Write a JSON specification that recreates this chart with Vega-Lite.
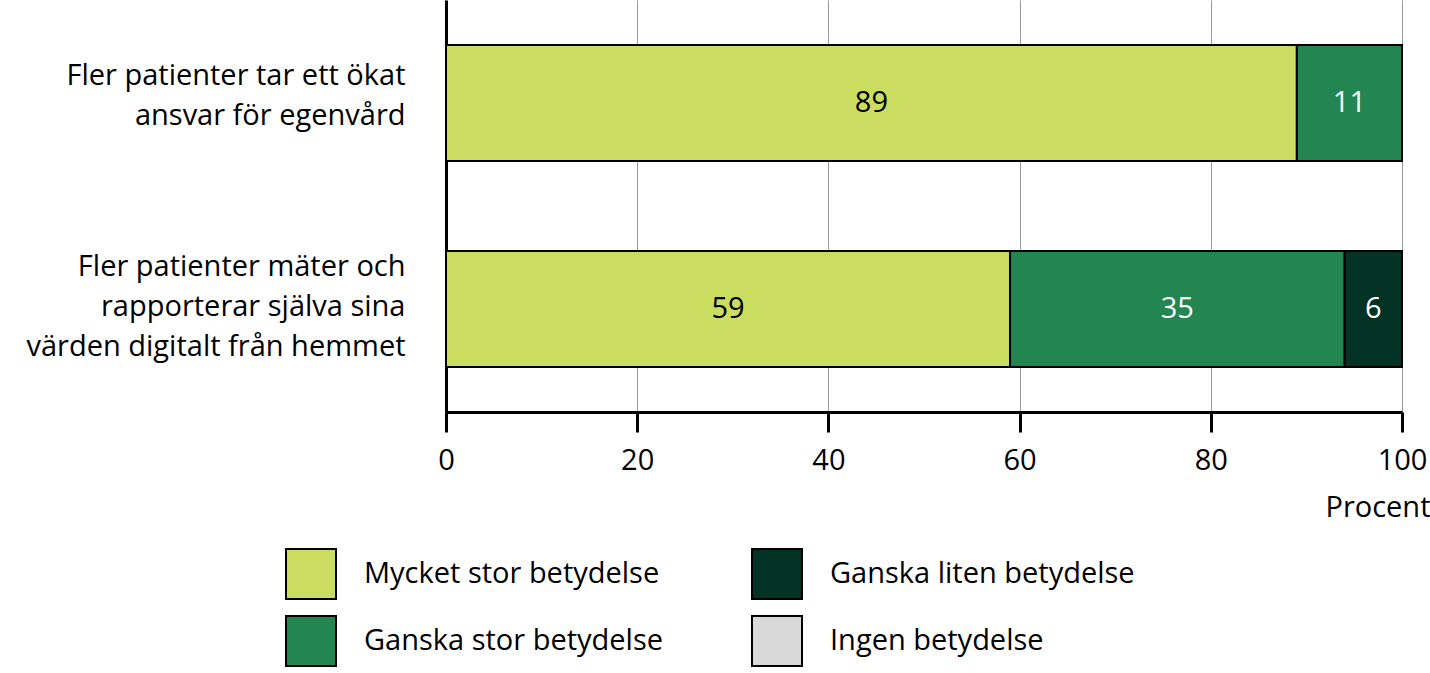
{
  "$schema": "https://vega.github.io/schema/vega-lite/v6.json",
  "width": 956,
  "height": 412,
  "autosize": {"type": "none"},
  "padding": {"left": 446, "top": 0, "right": 28, "bottom": 261},
  "background": "white",
  "config": {
    "font": "Open Sans",
    "view": {"stroke": null},
    "axis": {"labelFont": "Open Sans", "titleFont": "Open Sans"},
    "legend": {"labelFont": "Open Sans"},
    "text": {"font": "Open Sans"}
  },
  "data": {
    "values": [
      {"q": "Fler patienter tar ett ökat|ansvar för egenvård", "cat": "Mycket stor betydelse", "o": 1, "value": 89},
      {"q": "Fler patienter tar ett ökat|ansvar för egenvård", "cat": "Ganska stor betydelse", "o": 2, "value": 11},
      {"q": "Fler patienter mäter och|rapporterar själva sina|värden digitalt från hemmet", "cat": "Mycket stor betydelse", "o": 1, "value": 59},
      {"q": "Fler patienter mäter och|rapporterar själva sina|värden digitalt från hemmet", "cat": "Ganska stor betydelse", "o": 2, "value": 35},
      {"q": "Fler patienter mäter och|rapporterar själva sina|värden digitalt från hemmet", "cat": "Ganska liten betydelse", "o": 3, "value": 6}
    ]
  },
  "transform": [
    {"stack": "value", "groupby": ["q"], "sort": [{"field": "o"}], "as": ["v0", "v1"]},
    {"calculate": "(datum.v0 + datum.v1) / 2", "as": "mid"}
  ],
  "encoding": {
    "y": {
      "field": "q",
      "type": "nominal",
      "sort": ["Fler patienter tar ett ökat|ansvar för egenvård", "Fler patienter mäter och|rapporterar själva sina|värden digitalt från hemmet"],
      "scale": {"paddingInner": 0.437, "paddingOuter": 0.2185},
      "axis": {
        "title": null,
        "ticks": false,
        "domainColor": "black",
        "domainWidth": 3,
        "labelExpr": "split(datum.label, '|')",
        "labelFontSize": 29,
        "labelLineHeight": 40,
        "labelColor": "black",
        "labelPadding": 41,
        "labelLimit": 600,
        "labelOffset": {"condition": {"test": "indexof(datum.value, 'mäter') >= 0", "value": -42}, "value": -27}
      }
    }
  },
  "layer": [
    {
      "mark": {"type": "bar", "stroke": "black", "strokeWidth": 2},
      "encoding": {
        "x": {
          "field": "v0",
          "type": "quantitative",
          "scale": {"domain": [0, 100], "nice": false},
          "axis": {
            "title": "Procent",
            "titleFontSize": 29,
            "titleFontWeight": "normal",
            "titleColor": "black",
            "titleAnchor": "end",
            "titleAlign": "right",
            "titleX": 984,
            "titleY": 104,
            "titleBaseline": "alphabetic",
            "values": [0, 20, 40, 60, 80, 100],
            "labelFontSize": 29,
            "labelColor": "black",
            "labelPadding": 14,
            "labelFlush": false,
            "tickSize": 20,
            "tickWidth": 3,
            "tickColor": "black",
            "domainColor": "black",
            "domainWidth": 3,
            "grid": true,
            "gridColor": "#9a9a9a",
            "gridWidth": 1
          }
        },
        "x2": {"field": "v1"},
        "color": {
          "field": "cat",
          "type": "nominal",
          "scale": {
            "domain": ["Mycket stor betydelse", "Ganska liten betydelse", "Ganska stor betydelse", "Ingen betydelse"],
            "range": ["#cadd60", "#023324", "#23854f", "#d9d9d9"]
          },
          "legend": {
            "title": null,
            "orient": "none",
            "legendX": -161,
            "legendY": 548,
            "direction": "horizontal",
            "columns": 2,
            "symbolType": "square",
            "symbolSize": 2500,
            "symbolStrokeColor": "black",
            "symbolStrokeWidth": 2,
            "symbolOpacity": 1,
            "labelFontSize": 29,
            "labelColor": "black",
            "labelOffset": 27,
            "rowPadding": 9,
            "columnPadding": 84,
            "labelLimit": 500,
            "padding": 0
          }
        }
      }
    },
    {
      "mark": {"type": "text", "fontSize": 29, "baseline": "middle", "align": "center"},
      "encoding": {
        "x": {"field": "mid", "type": "quantitative"},
        "text": {"field": "value", "type": "quantitative"},
        "color": {
          "condition": {"test": "datum.cat === 'Mycket stor betydelse'", "value": "black"},
          "value": "white"
        }
      }
    }
  ]
}
